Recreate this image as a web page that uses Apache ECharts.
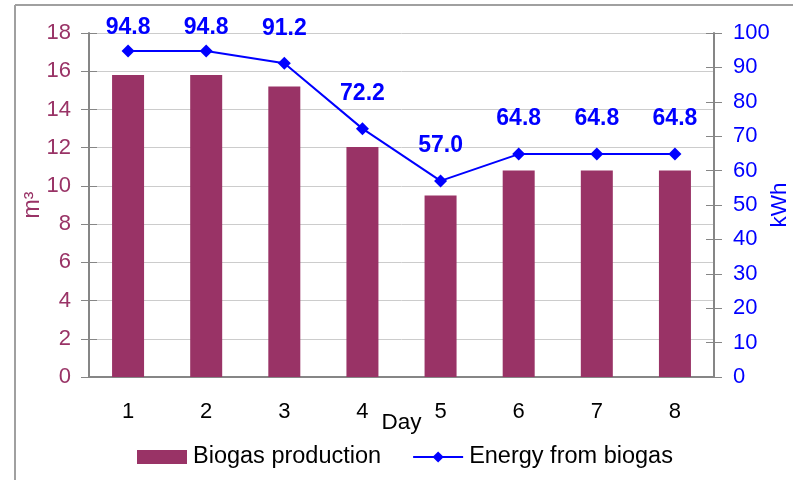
<!DOCTYPE html>
<html>
<head>
<meta charset="utf-8">
<script src="https://cdn.jsdelivr.net/npm/echarts@6/dist/echarts.min.js"></script>
<style>
  html, body { margin: 0; padding: 0; background: #ffffff; overflow: hidden; }
  #chart { width: 793px; height: 480px; }
</style>
</head>
<body>
<div id="chart"></div>
<script>
// Daily biogas output (m3) and the electrical energy it yields (kWh)
const days = ['1', '2', '3', '4', '5', '6', '7', '8'];
const biogasProduction = [15.8, 15.8, 15.2, 12.03, 9.5, 10.8, 10.8, 10.8];
const energyFromBiogas = [94.8, 94.8, 91.2, 72.2, 57.0, 64.8, 64.8, 64.8];

const BAR_COLOR = '#993366';
const LINE_COLOR = '#0000ff';
const AXIS_GRAY = '#868686';
const FONT = 'Liberation Sans, Arial, sans-serif';
// value labels never rise above this line (label box centre y, px)
const LABEL_TOP_LIMIT = 28;

const chart = echarts.init(document.getElementById('chart'), null, { renderer: 'canvas' });

// tick marks that cross the axis line: outer half on the main axis, inner half on a twin
function twinTicks(position, min, max, interval) {
  return {
    type: 'value', position, min, max, interval,
    axisLine: { show: false },
    axisTick: { show: true, inside: true, length: 8, lineStyle: { color: AXIS_GRAY, width: 1 } },
    axisLabel: { show: false },
    splitLine: { show: false }
  };
}

chart.setOption({
  animation: false,
  backgroundColor: '#ffffff',
  textStyle: { fontFamily: FONT },
  graphic: [
    // outer chart frame (left and top edges)
    { type: 'line', shape: { x1: 15, y1: 5, x2: 15, y2: 480 }, style: { stroke: '#a0a0a0', lineWidth: 2 } },
    { type: 'line', shape: { x1: 15, y1: 5, x2: 793, y2: 5 }, style: { stroke: '#a0a0a0', lineWidth: 2 } }
  ],
  grid: {
    left: 89, right: 79, top: 33, bottom: 103,
    containLabel: false,
    outerBoundsMode: 'none'
  },
  legend: {
    left: 137,
    top: 445,
    padding: 0,
    itemWidth: 50,
    itemHeight: 14,
    itemGap: 31,
    textStyle: { fontFamily: FONT, fontSize: 23.5, color: '#000000', padding: [0, 0, 0, 1] },
    data: [
      { name: 'Biogas production', icon: 'rect' },
      { name: 'Energy from biogas' }
    ]
  },
  xAxis: [
    {
      type: 'category',
      data: days,
      name: 'Day',
      nameLocation: 'middle',
      nameGap: 34,
      nameMoveOverlap: false,
      nameTextStyle: { fontFamily: FONT, fontSize: 22.5, color: '#000000' },
      axisLine: { lineStyle: { color: AXIS_GRAY, width: 2 } },
      axisTick: { show: false },
      axisLabel: { fontFamily: FONT, fontSize: 22, color: '#000000', margin: 24 }
    },
    {
      // top edge of the plot area
      type: 'category',
      data: days,
      position: 'top',
      axisLine: { show: true, lineStyle: { color: AXIS_GRAY, width: 1.5 } },
      axisTick: { show: false },
      axisLabel: { show: false }
    }
  ],
  yAxis: [
    {
      type: 'value',
      min: 0,
      max: 18,
      interval: 2,
      name: 'm\u00b3',
      nameLocation: 'middle',
      nameGap: 45,
      nameMoveOverlap: false,
      nameRotate: 90,
      nameTextStyle: { fontFamily: FONT, fontSize: 23, color: BAR_COLOR },
      axisLine: { show: true, lineStyle: { color: AXIS_GRAY, width: 2 } },
      axisTick: { show: true, inside: false, length: 8, lineStyle: { color: AXIS_GRAY, width: 1 } },
      axisLabel: { fontFamily: FONT, fontSize: 22, color: BAR_COLOR, margin: 18 },
      splitLine: { show: true, lineStyle: { color: '#cccccc', width: 1 } }
    },
    {
      type: 'value',
      min: 0,
      max: 100,
      interval: 10,
      name: 'kWh',
      nameLocation: 'middle',
      nameGap: 54,
      nameMoveOverlap: false,
      nameRotate: 90,
      nameTextStyle: { fontFamily: FONT, fontSize: 22.5, color: LINE_COLOR },
      axisLine: { show: true, lineStyle: { color: AXIS_GRAY, width: 2 } },
      axisTick: { show: true, inside: false, length: 8, lineStyle: { color: AXIS_GRAY, width: 1 } },
      axisLabel: { fontFamily: FONT, fontSize: 22, color: LINE_COLOR, margin: 19 },
      splitLine: { show: false }
    },
    twinTicks('left', 0, 18, 2),
    twinTicks('right', 0, 100, 10)
  ],
  series: [
    {
      name: 'Biogas production',
      type: 'bar',
      yAxisIndex: 0,
      data: biogasProduction,
      barWidth: 32,
      itemStyle: { color: BAR_COLOR }
    },
    {
      name: 'Energy from biogas',
      type: 'line',
      yAxisIndex: 1,
      data: energyFromBiogas,
      symbol: 'diamond',
      symbolSize: 13,
      lineStyle: { color: LINE_COLOR, width: 2 },
      itemStyle: { color: LINE_COLOR },
      label: {
        show: true,
        position: 'top',
        distance: 17,
        formatter: (p) => p.value.toFixed(1),
        fontFamily: FONT,
        fontSize: 23,
        fontWeight: 'bold',
        color: LINE_COLOR
      },
      // keep labels of the highest points inside the chart's top margin
      labelLayout: (params) => {
        const r = params.labelRect;
        const cy = r.y + r.height / 2;
        return {
          x: r.x + r.width / 2,
          y: Math.max(cy, LABEL_TOP_LIMIT),
          align: 'center',
          verticalAlign: 'middle'
        };
      }
    }
  ]
});
</script>
</body>
</html>
